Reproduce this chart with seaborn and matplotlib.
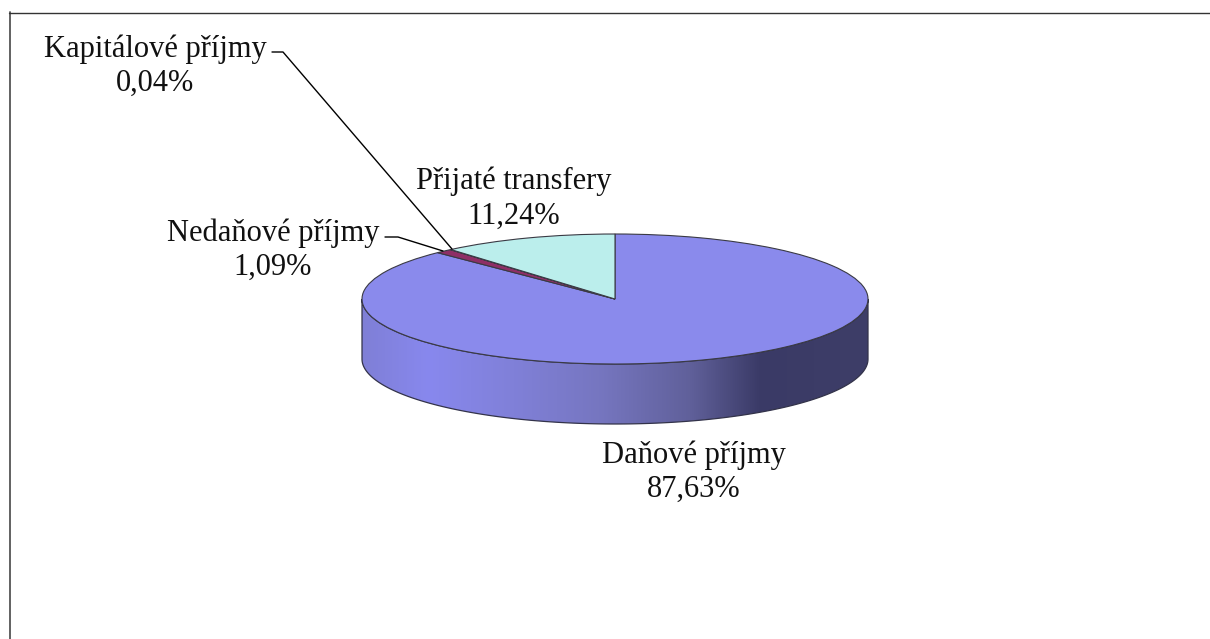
import seaborn as sns
import matplotlib
matplotlib.use("Agg")
import matplotlib.pyplot as plt
import numpy as np
from matplotlib.colors import LinearSegmentedColormap
from matplotlib.lines import Line2D
from matplotlib.patches import Polygon

# podíly příjmů v procentech
kategorie = ["Daňové příjmy", "Nedaňové příjmy", "Kapitálové příjmy", "Přijaté transfery"]
podily = [87.63, 1.09, 0.04, 11.24]
popisky = ["87,63%", "1,09%", "0,04%", "11,24%"]
barvy = ["#8a8aec", "#8e2f66", "#8e2f66", "#bbeeec"]
stena_barvy = ["#7f7fd6", "#8888ee", "#8080d8", "#7676c0", "#60609a", "#3a3a66", "#3e3e68"]
stena_pozice = [0.0, 0.13, 0.30, 0.47, 0.65, 0.79, 1.0]

W, H = 1210, 639
CX, CY = 615, 299
RX, RY = 253, 65
HLOUBKA = 60

sns.set_theme(style="white")
plt.rcParams["font.family"] = ["Liberation Serif", "DejaVu Serif"]

fig = plt.figure(figsize=(W / 100, H / 100), dpi=100, facecolor="white")
ax = fig.add_axes([0, 0, 1, 1])

# poloměr koláče = 1 v datech, zploštění dělají limity os
wedges, _ = ax.pie(podily, colors=barvy, startangle=90, counterclock=False,
                   wedgeprops={"edgecolor": "#3a3a44", "linewidth": 0.8}, radius=1)
for w in wedges:
    w.set_zorder(3)
ax.set_aspect("auto")
ax.axis("off")

# boční stěna s přechodem
h = HLOUBKA / RY
t = np.linspace(np.pi, 2 * np.pi, 200)
okraj_x, okraj_y = np.cos(t), np.sin(t)
obrys = np.r_[np.c_[okraj_x, okraj_y], np.c_[okraj_x[::-1], okraj_y[::-1] - h]]
stena = Polygon(obrys, closed=True, facecolor="none", edgecolor="#33334a", linewidth=0.9, zorder=2)
ax.add_patch(stena)
cmap = LinearSegmentedColormap.from_list("stena", list(zip(stena_pozice, stena_barvy)))
img = ax.imshow(np.linspace(0, 1, 256)[None, :], cmap=cmap, aspect="auto",
                extent=(-1, 1, -1 - h, 0), zorder=1)
img.set_clip_path(stena)
ax.set_xlim(-CX / RX, (W - CX) / RX)
ax.set_ylim((CY - H) / RY, CY / RY)


def px(x, y):
    return ((x - CX) / RX, (CY - y) / RY)


FS = 22
pozice = [(694, 472), (273, 250), (155, 66), (514, 199)]
for jmeno, popis, (x, y) in zip(kategorie, popisky, pozice):
    ax.text(*px(x, y), f"{jmeno}\n{popis}", ha="center", va="center", fontsize=FS,
            color="#111111", linespacing=1.25)

# vodicí čáry popisků
for xs, ys in [([272, 283, 452], [52, 52, 249]), ([385, 398, 443], [237, 237, 251])]:
    p = [px(a, b) for a, b in zip(xs, ys)]
    ax.plot([q[0] for q in p], [q[1] for q in p], color="black", lw=1, zorder=4)

# rámeček grafu - v obrázku je vidět jen levá a horní strana
fig.add_artist(Line2D([9.5 / W, 9.5 / W], [0, (H - 12) / H], color="#555555", lw=1.3))
fig.add_artist(Line2D([9 / W, 1], [(H - 12.5) / H, (H - 12.5) / H], color="#333333", lw=1.0))

fig.savefig("out.png", dpi=100)
